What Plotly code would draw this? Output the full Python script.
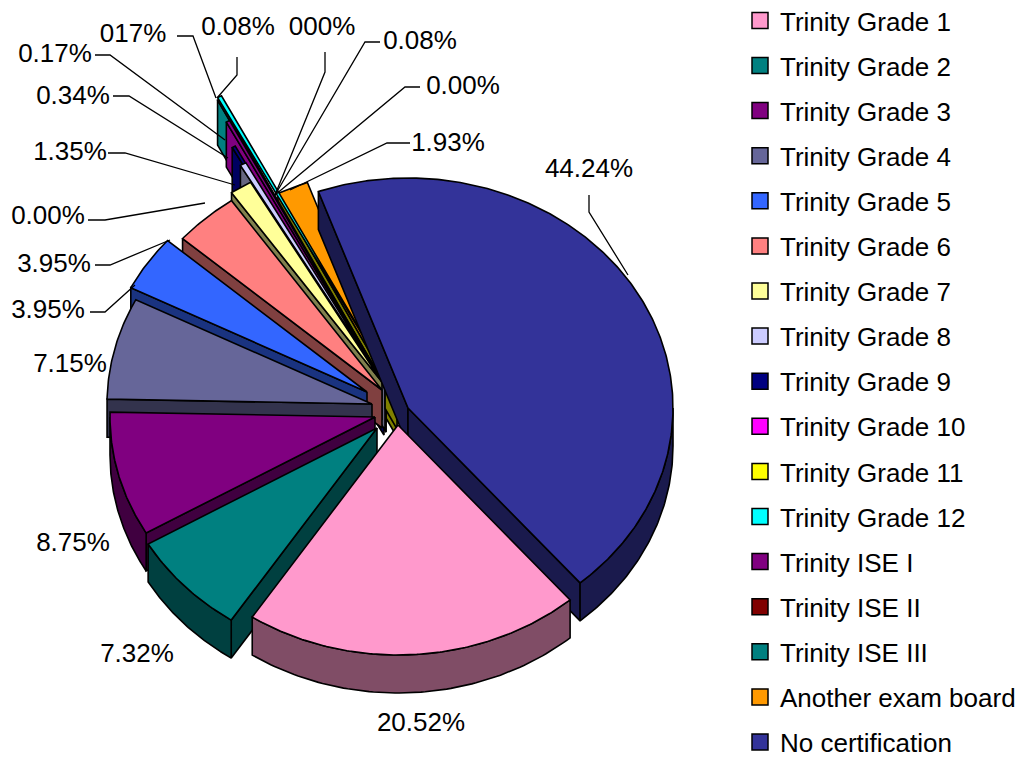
import numpy as np
import plotly.graph_objects as go

categories = ["Trinity Grade 1", "Trinity Grade 2", "Trinity Grade 3", "Trinity Grade 4",
              "Trinity Grade 5", "Trinity Grade 6", "Trinity Grade 7", "Trinity Grade 8",
              "Trinity Grade 9", "Trinity Grade 10", "Trinity Grade 11", "Trinity Grade 12",
              "Trinity ISE I", "Trinity ISE II", "Trinity ISE III", "Another exam board",
              "No certification"]
values = [20.52, 7.32, 8.75, 7.15, 3.95, 3.95, 1.35, 0.34, 0.17, 0.00, 0.00, 0.08,
          0.17, 0.00, 0.08, 1.93, 44.24]
colors = ["#FF99CC", "#008080", "#800080", "#666699", "#3366FF", "#FF8080", "#FFFF99",
          "#CCCCFF", "#000080", "#FF00FF", "#FFFF00", "#00FFFF", "#800080", "#800000",
          "#008080", "#FF9900", "#333399"]
wall_colors = ["#804D66", "#004040", "#400040", "#33334D", "#1A3380", "#804040", "#80804D",
               "#666680", "#000060", "#800080", "#808000", "#00FFFF", "#800080", "#400000",
               "#008080", "#808000", "#1A1A4D"]
# slice apex after explosion, and radial stretch of each slice, in chart units
apex_x = [398, 377, 375, 372, 367, 382, 382, 385, 384, 390, 390, 385, 386, 390, 386, 397, 408]
apex_y = [425, 428, 417, 404, 392, 390, 382, 385, 390, 395, 395, 372, 387, 395, 387, 399, 408]
stretch = [1, 1, 1, 1, 1, 1, 1, 1.10, 1.20, 1, 1, 1.35, 1.30, 1, 1.40, 1, 1]
label_texts = ["44.24%", "1.93%", "0.00%", "0.08%", "000%", "0.08%", "017%", "0.17%", "0.34%",
               "1.35%", "0.00%", "3.95%", "3.95%", "7.15%", "8.75%", "7.32%", "20.52%"]
label_x = [589, 448, 463, 420, 322, 238, 133, 55, 73, 70, 48, 54, 48, 70, 73, 137, 421]
label_y = [170, 144, 87, 42, 28, 28, 35, 55, 97, 153, 217, 265, 311, 365, 544, 655, 724]
leaders = [[(589, 195), (589, 212), (628, 275)], [(410, 143), (387, 143), (290, 190)],
           [(420, 87), (405, 87), (275, 195)], [(380, 42), (365, 42), (275, 195)],
           [(325, 52), (325, 72), (275, 195)], [(237, 57), (237, 75), (217, 98)],
           [(177, 36), (193, 36), (216, 98)], [(95, 55), (110, 55), (225, 140)],
           [(113, 96), (129, 96), (228, 158)], [(108, 153), (125, 153), (235, 185)],
           [(88, 220), (105, 220), (205, 203)], [(95, 265), (110, 265), (170, 240)],
           [(90, 312), (105, 312), (135, 285)]]

START = 139.5
RX, RY = 265, 230
DEPTH = 38
PAGE_W, PAGE_H = 1021, 758
FONT = "Liberation Sans, Arial"
paint_order = [15, 14, 12, 11, 8, 7, 6, "olive", 5, 4, 3, 2, 16, 1, 0]
min_width = {11: 0.7}
thin_depth = {14: 45, 12: 45, 8: 45, 7: 45}

edges = START + np.cumsum([0] + values) * 3.6

def pt(i, deg, frac=1.0):
    t = np.radians(deg)
    s = stretch[i] * frac
    return apex_x[i] + s * RX * np.sin(t), apex_y[i] - s * RY * np.cos(t)

fig = go.Figure()

def poly(xs, ys, fill, width=1.6):
    fig.add_trace(go.Scatter(x=list(xs) + [xs[0]], y=list(ys) + [ys[0]], mode="lines", fill="toself",
                             fillcolor=fill, line=dict(color="black", width=width),
                             showlegend=False, hoverinfo="skip"))

for i in paint_order:
    if i == "olive":
        # inner end of the "Another exam board" wall, which shows in front of the thin slices
        k = 15
        x, y = pt(k, edges[k], 0.10)
        poly([apex_x[k], x, x, apex_x[k]], [apex_y[k], y, y + 30, apex_y[k] + 30], wall_colors[k])
        continue
    a0, a1 = edges[i], edges[i + 1]
    if i in min_width:
        a1 = a0 + min_width[i]
    ax, ay = apex_x[i], apex_y[i]
    d = thin_depth.get(i, DEPTH)
    wc = wall_colors[i]
    if i != 11:
        if np.cos(np.radians(a0 - 90)) < 0:
            x, y = pt(i, a0)
            poly([ax, x, x, ax], [ay, y, y + d, ay + d], wc)
        if np.cos(np.radians(a1 + 90)) < 0:
            x, y = pt(i, a1)
            poly([ax, x, x, ax], [ay, y, y + d, ay + d], wc)
        for off in (0, 360):
            lo, hi = max(a0, 90 + off), min(a1, 270 + off)
            if hi > lo:
                th = np.linspace(lo, hi, 80)
                x, y = pt(i, th)
                poly(np.r_[x, x[::-1]], np.r_[y, y[::-1] + d], wc)
    th = np.linspace(a0, a1, max(int((a1 - a0) * 2), 2))
    x, y = pt(i, th)
    poly(np.r_[ax, x], np.r_[ay, y], colors[i])

for seg in leaders:
    fig.add_trace(go.Scatter(x=[p[0] for p in seg], y=[p[1] for p in seg], mode="lines",
                             line=dict(color="black", width=1.3), showlegend=False, hoverinfo="skip"))

fig.add_trace(go.Scatter(x=label_x, y=label_y, mode="text", text=label_texts, textposition="middle center",
                         textfont=dict(family=FONT, size=26, color="black"), showlegend=False, hoverinfo="skip"))

for name, c in zip(categories, colors):
    fig.add_trace(go.Scatter(x=[None], y=[None], mode="markers", name=name, legendgroup=name,
                             marker=dict(symbol="square", size=20, color=c, line=dict(color="black", width=1.5))))

fig.update_layout(
    width=PAGE_W, height=PAGE_H, autosize=False,
    margin=dict(l=0, r=0, t=0, b=0, autoexpand=False),
    paper_bgcolor="white", plot_bgcolor="white",
    xaxis=dict(range=[0, PAGE_W], visible=False, fixedrange=True),
    yaxis=dict(range=[PAGE_H, 0], visible=False, fixedrange=True),
    legend=dict(x=740 / PAGE_W, xanchor="left", y=1.0 + 3 / PAGE_H, yanchor="top",
                bgcolor="rgba(0,0,0,0)", font=dict(family=FONT, size=26, color="black"), tracegroupgap=8.3,
                itemsizing="trace", itemclick=False, itemdoubleclick=False, maxheight=800),
)
fig.write_html("out.html", default_width=f"{PAGE_W}px", default_height=f"{PAGE_H}px",
               config={"displayModeBar": False},
               post_script="document.body.style.margin='0';document.documentElement.style.overflow='hidden';")
